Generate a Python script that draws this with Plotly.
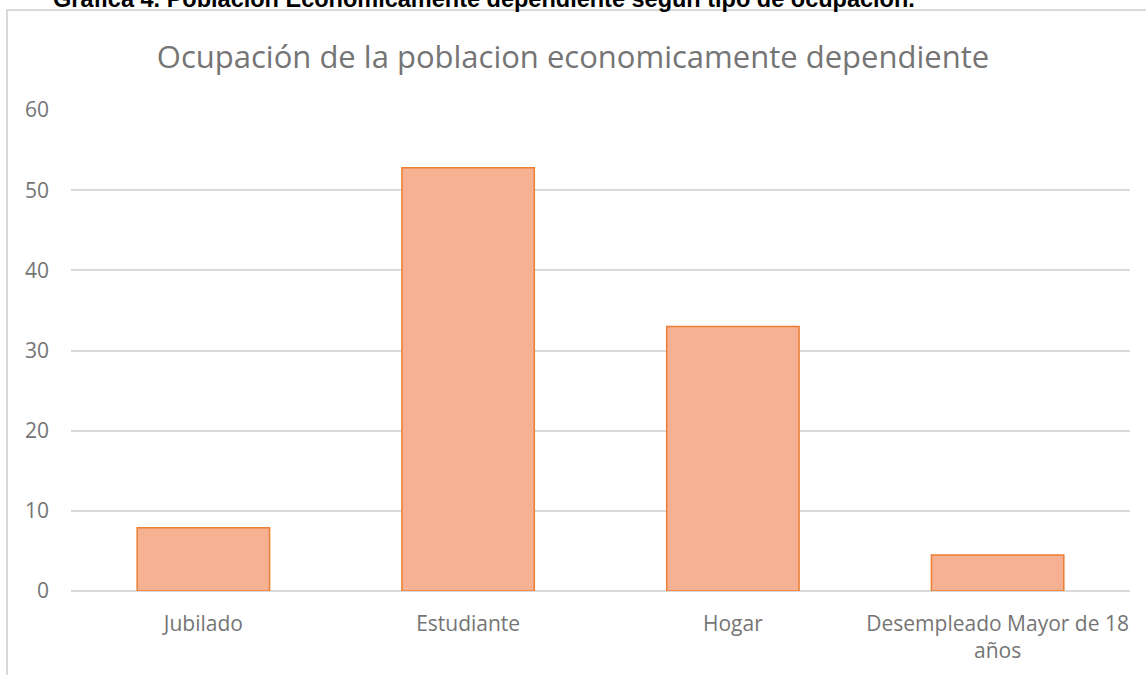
import plotly.graph_objects as go

# data
categorias = ["Jubilado", "Estudiante", "Hogar", "Desempleado Mayor de 18<br>años"]
porcentajes = [7.9, 52.8, 33.0, 4.5]
y_ticks = [0, 10, 20, 30, 40, 50, 60]

TEXT_GRAY = "#757575"
GRID_GRAY = "#D9D9D9"
BAR_FILL = "#F6B193"
BAR_LINE = "#ED7D31"

W, H = 1146, 675
ML, MR, MT, MB = 71, 16, 110, 84
PW = W - ML - MR
PH = H - MT - MB

fig = go.Figure()

fig.add_trace(
    go.Bar(
        x=categorias,
        y=porcentajes,
        marker=dict(color=BAR_FILL, line=dict(color=BAR_LINE, width=1.5)),
        width=0.5,
        hoverinfo="x+y",
    )
)

# chart frame (light gray border, cut by the page on the right and bottom)
fig.add_shape(
    type="rect",
    xref="paper", yref="paper",
    x0=(7 - ML) / PW, x1=1.1,
    y0=-0.5, y1=(H - MB - 10) / PH,
    line=dict(color=GRID_GRAY, width=2),
    fillcolor="rgba(0,0,0,0)",
    layer="below",
)

# caption above the chart, mostly outside the page
fig.add_annotation(
    text="<b>Gráfica 4. Población Económicamente dependiente según tipo de ocupación.</b>",
    xref="paper", yref="paper",
    x=(484 - ML) / PW, y=(H - MB + 0.5) / PH,
    xanchor="center", yanchor="middle",
    showarrow=False,
    font=dict(family="Liberation Sans", size=23.5, color="#000000"),
)

fig.update_layout(
    width=W, height=H,
    margin=dict(l=ML, r=MR, t=MT, b=MB),
    paper_bgcolor="white",
    plot_bgcolor="white",
    showlegend=False,
    bargap=0.5,
    title=dict(
        text="Ocupación de la poblacion economicamente dependiente",
        x=0.5, xanchor="center",
        y=1 - 57 / H, yanchor="middle",
        font=dict(family="Open Sans", size=31, color=TEXT_GRAY),
    ),
    font=dict(family="Open Sans", color=TEXT_GRAY),
)

fig.update_xaxes(
    showgrid=False,
    showline=False,
    ticks="",
    tickfont=dict(family="Open Sans", size=21, color=TEXT_GRAY),
    ticklabelstandoff=18,
)

fig.update_yaxes(
    range=[0, 60],
    tickvals=y_ticks,
    showgrid=True,
    gridcolor=GRID_GRAY,
    gridwidth=1.5,
    zeroline=True,
    zerolinecolor=GRID_GRAY,
    zerolinewidth=1.5,
    showline=False,
    ticks="",
    tickfont=dict(family="Open Sans", size=21, color=TEXT_GRAY),
    ticklabelstandoff=21,
)

# page body has a default 8px margin; drop it so the figure sits at the corner
fig.write_html(
    "out.html",
    config={"displayModeBar": False},
    post_script="document.body.style.margin='0';",
)
